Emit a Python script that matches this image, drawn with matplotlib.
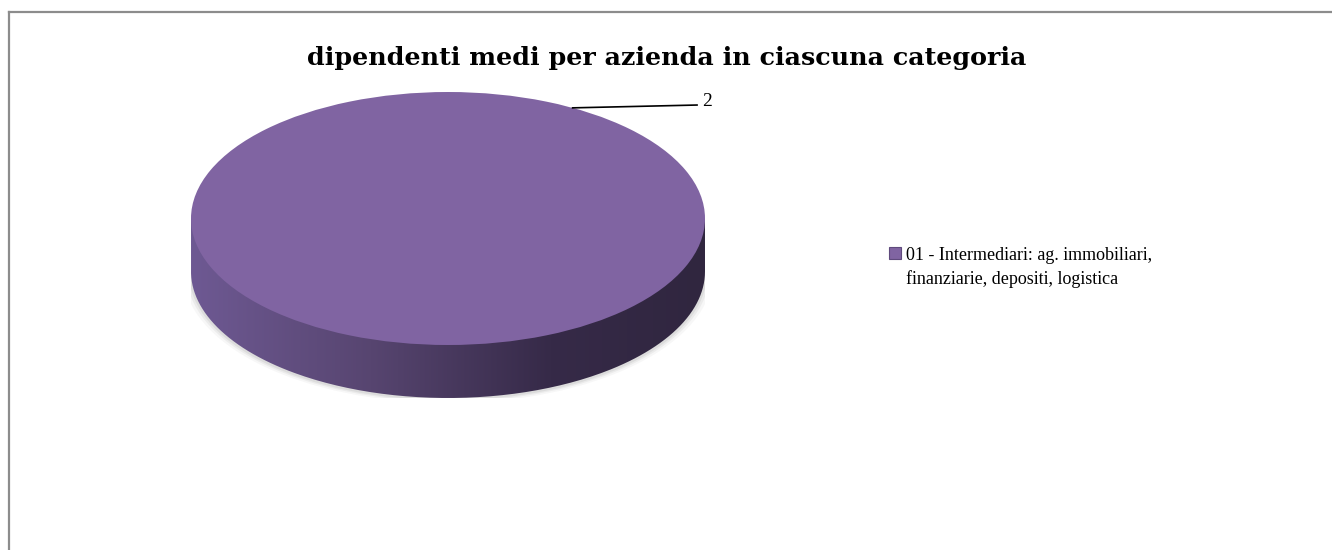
import numpy as np
import matplotlib.pyplot as plt
from matplotlib.path import Path
from matplotlib.patches import PathPatch, Ellipse
from matplotlib.colors import LinearSegmentedColormap

# dati del grafico
categorie = ["01 - Intermediari: ag. immobiliari,\nfinanziarie, depositi, logistica"]
dipendenti_medi = [2]
colori = ["#8064A2"]
titolo = "dipendenti medi per azienda in ciascuna categoria"

W, H = 1332, 550
fig = plt.figure(figsize=(W / 100, H / 100), dpi=100)

# cornice del grafico (solo lato sinistro e superiore visibili)
fig.add_artist(plt.Line2D([9 / W, 9 / W], [0, 1 - 12 / H], color="#8c8c8c", lw=1.6))
fig.add_artist(plt.Line2D([9 / W, 1], [1 - 12 / H, 1 - 12 / H], color="#8c8c8c", lw=1.6))

fig.text(667 / W, 1 - 58 / H, titolo, ha="center", va="center",
         fontsize=18.3, fontweight="bold", family="DejaVu Serif")

# torta 3D: faccia superiore ellittica + bordo laterale sfumato
spessore = 53 / 126.5
ax = fig.add_axes([191 / W, 152 / H, 514 / W, 306 / H])
wedges, _ = ax.pie(dipendenti_medi, colors=colori, radius=1, startangle=90,
                   wedgeprops=dict(linewidth=0))
for w in wedges:
    w.set_zorder(3)
ax.set_aspect("auto")
ax.axis("off")

# ombra morbida
for k, a in zip([1.03, 1.018, 1.008], [0.06, 0.09, 0.13]):
    ax.add_patch(Ellipse((0, -spessore - 0.01), 2 * k, 2 * k, color="#7a7a7a",
                         alpha=a, lw=0, zorder=0))

t = np.linspace(np.pi, 2 * np.pi, 200)
vx = np.concatenate([[-1], np.cos(t), [1, -1]])
vy = np.concatenate([[0], np.sin(t) - spessore, [0, 0]])
lato = PathPatch(Path(np.column_stack([vx, vy])), facecolor="none", edgecolor="none")
ax.add_patch(lato)
cmap = LinearSegmentedColormap.from_list(
    "lato", [(0, "#6e5993"), (0.35, "#574570"), (0.7, "#362a48"), (1, "#30263f")])
grad = np.linspace(0, 1, 256).reshape(1, -1)
img = ax.imshow(grad, cmap=cmap, extent=(-1, 1, -1 - spessore, 0), aspect="auto",
                zorder=1, interpolation="bilinear")
img.set_clip_path(lato)
ax.set_xlim(-1, 1)
ax.set_ylim(-1 - spessore, 1)

# etichetta dati con linea guida
ang = np.deg2rad(61)
x0, y0 = np.cos(ang), np.sin(ang)
x1, y1 = 0.969, 0.897
ax.plot([x0, x1], [y0, y1], color="black", lw=1.2, zorder=4, clip_on=False)
ax.text(x1 + 0.02, y1 - 0.005, str(dipendenti_medi[0]), ha="left", va="baseline",
        fontsize=14, family="Liberation Serif", clip_on=False)

leg = fig.legend(wedges, categorie, loc="upper left", bbox_to_anchor=(889 / W, 1 - 247 / H),
                 frameon=False, prop=dict(family="Liberation Serif", size=13),
                 handlelength=0.65, handleheight=0.65, handletextpad=0.3,
                 borderaxespad=0, borderpad=0)
for txt in leg.get_texts():
    txt.set_linespacing(1.45)
# quadratino allineato alla prima riga come nell'originale
for col in leg._legend_handle_box.get_children():
    for row in col.get_children():
        row.align = "top"
for h in leg.legend_handles:
    h.set_edgecolor("#5f4a7d")
    h.set_linewidth(0.8)

fig.savefig("out.png", dpi=100)
